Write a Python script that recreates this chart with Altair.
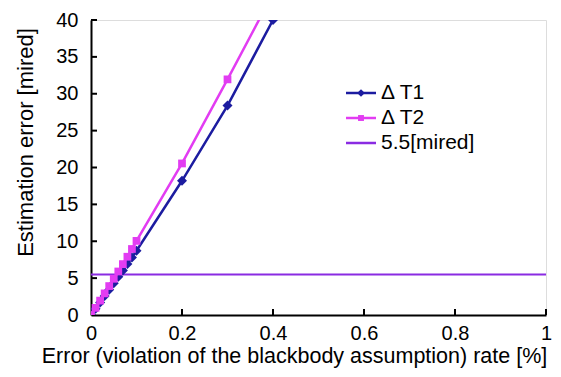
import altair as alt
import pandas as pd

# ---- data ----
x_vals = [0, 0.01, 0.02, 0.03, 0.04, 0.05, 0.06, 0.07, 0.08, 0.09, 0.1, 0.2, 0.3, 0.4]
dt1 = [0, 0.85, 1.71, 2.57, 3.43, 4.3, 5.17, 6.04, 6.92, 7.8, 8.72, 18.2, 28.4, 40.0]
dt2 = [0, 0.97, 1.95, 2.93, 3.92, 4.91, 5.9, 6.9, 7.9, 8.95, 10.05, 20.55, 31.95, 43.6]
threshold = 5.5
x_ticks = [0, 0.2, 0.4, 0.6, 0.8, 1]
y_ticks = [0, 5, 10, 15, 20, 25, 30, 35, 40]

series_names = ["\u0394 T1", "\u0394 T2", "5.5[mired]"]
series_colors = ["#1c1ca0", "#e23cf2", "#8a2be2"]
series_shapes = ["diamond", "square", None]

FONT = "Liberation Sans"
W, H = 455, 295

df1 = pd.DataFrame({"x": x_vals, "y": dt1})
df2 = pd.DataFrame({"x": x_vals, "y": dt2})
df_thr = pd.DataFrame({"x": [0], "x2": [1], "y": [threshold]})
df_xt = pd.DataFrame({"x": x_ticks[1:]})
df_yt = pd.DataFrame({"y": y_ticks[1:]})

xscale = alt.Scale(domain=[0, 1], nice=False, zero=False)
yscale = alt.Scale(domain=[0, 40], nice=False, zero=False)

xaxis = alt.Axis(
    values=x_ticks, format="~g", grid=False, ticks=False, tickSize=0,
    domainColor="black", domainWidth=2, labelFont=FONT, labelFontSize=20,
    labelColor="black", labelPadding=8, labelFlush=False, labelOverlap=False,
    title="Error (violation of the blackbody assumption) rate [%]",
    titleFont=FONT, titleFontSize=21.5, titleFontWeight="normal", titleColor="black",
    titleX=203, titleY=41, titleBaseline="middle", titleAlign="center",
)
yaxis = alt.Axis(
    values=y_ticks, tickCount=9, grid=False, ticks=False, tickSize=0,
    domainColor="black", domainWidth=2, labelFont=FONT, labelFontSize=20,
    labelColor="black", labelPadding=13, labelFlush=False, labelOverlap=False,
    title="Estimation error [mired]",
    titleFont=FONT, titleFontSize=22, titleFontWeight="normal", titleColor="black",
    titleX=-66, titleY=122, titleBaseline="middle", titleAlign="center", titleAngle=270,
)

def X(field="x:Q"):
    return alt.X(field, scale=xscale, axis=xaxis)

def Y(field="y:Q"):
    return alt.Y(field, scale=yscale, axis=yaxis)

base_axes = alt.Chart(df1).mark_point(opacity=0).encode(x=X(), y=Y())

thr = alt.Chart(df_thr).mark_rule(color=series_colors[2], strokeWidth=2).encode(
    x=X(), x2="x2:Q", y=Y()
)

def series(df, color, shape, size):
    line = alt.Chart(df).mark_line(color=color, strokeWidth=2.5, clip=True).encode(
        x=X(), y=Y()
    )
    pts = alt.Chart(df).mark_point(
        shape=shape, filled=True, color=color, size=size, opacity=1, clip=True
    ).encode(x=X(), y=Y())
    return line + pts

s1 = series(df1, series_colors[0], series_shapes[0], 100)
s2 = series(df2, series_colors[1], series_shapes[1], 60)

xt = alt.Chart(df_xt).mark_rule(color="black", strokeWidth=2).encode(
    x=X(), y=alt.value(H), y2=alt.value(H - 6)
)
yt = alt.Chart(df_yt).mark_rule(color="black", strokeWidth=2).encode(
    y=Y(), x=alt.value(0), x2=alt.value(6)
)

# ---- legend ----
legend_layers = []
row_y = [73, 98, 123]
for name, color, shape, ry in zip(series_names, series_colors, series_shapes, row_y):
    ldf = pd.DataFrame({"label": [name]})
    legend_layers.append(
        alt.Chart(ldf).mark_rule(color=color, strokeWidth=2.5).encode(
            x=alt.value(255), x2=alt.value(285), y=alt.value(ry)
        )
    )
    if shape:
        legend_layers.append(
            alt.Chart(ldf).mark_point(shape=shape, filled=True, color=color,
                                      size=60 if shape == "diamond" else 35, opacity=1).encode(
                x=alt.value(270), y=alt.value(ry)
            )
        )
    legend_layers.append(
        alt.Chart(ldf).mark_text(
            align="left", baseline="middle", font=FONT, fontSize=21, color="black"
        ).encode(x=alt.value(290), y=alt.value(ry), text="label:N")
    )

chart = alt.layer(base_axes, thr, s1, s2, xt, yt, *legend_layers).properties(
    width=W, height=H,
    autosize=alt.AutoSizeParams(type="none"),
    padding={"left": 91, "top": 20, "right": 15, "bottom": 62},
).configure_view(stroke=None).configure(background="white")

chart.save("out.html", embed_options={"renderer": "svg", "actions": False})
